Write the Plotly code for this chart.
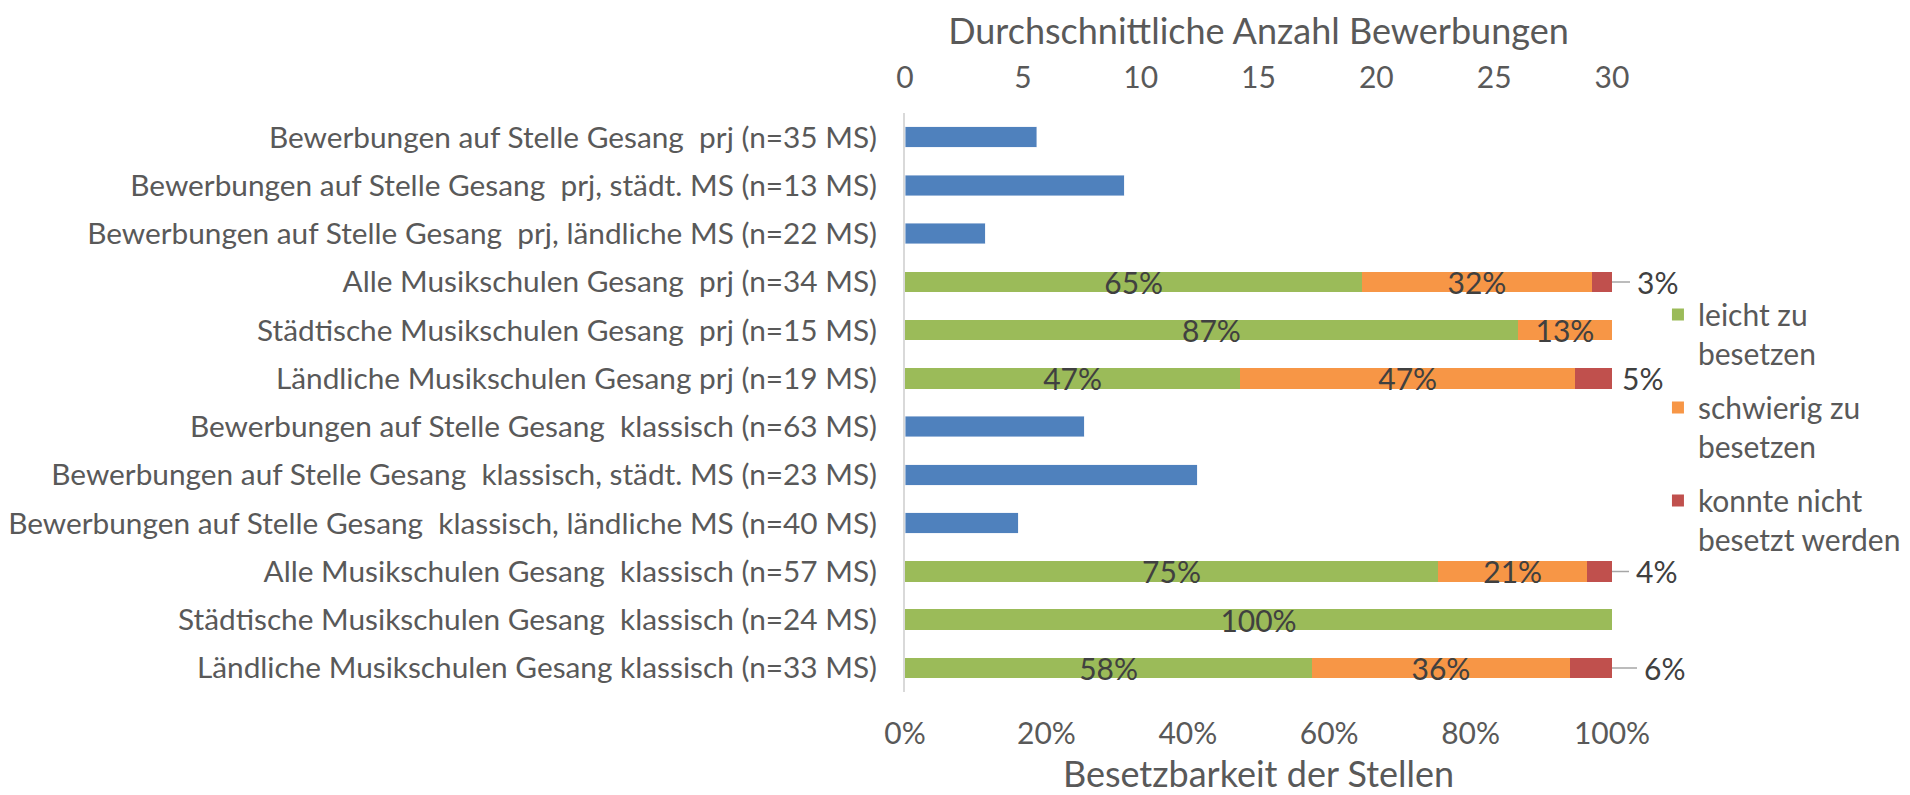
import plotly.graph_objects as go

categories = [
    "Bewerbungen auf Stelle Gesang  prj (n=35 MS)",
    "Bewerbungen auf Stelle Gesang  prj, städt. MS (n=13 MS)",
    "Bewerbungen auf Stelle Gesang  prj, ländliche MS (n=22 MS)",
    "Alle Musikschulen Gesang  prj (n=34 MS)",
    "Städtische Musikschulen Gesang  prj (n=15 MS)",
    "Ländliche Musikschulen Gesang prj (n=19 MS)",
    "Bewerbungen auf Stelle Gesang  klassisch (n=63 MS)",
    "Bewerbungen auf Stelle Gesang  klassisch, städt. MS (n=23 MS)",
    "Bewerbungen auf Stelle Gesang  klassisch, ländliche MS (n=40 MS)",
    "Alle Musikschulen Gesang  klassisch (n=57 MS)",
    "Städtische Musikschulen Gesang  klassisch (n=24 MS)",
    "Ländliche Musikschulen Gesang klassisch (n=33 MS)",
]

# average number of applications (top axis)
bewerbungen = [5.6, 9.3, 3.4, None, None, None, 7.6, 12.4, 4.8, None, None, None]

# share of positions (bottom axis)
leicht = [None, None, None, 0.647, 0.867, 0.474, None, None, None, 0.754, 1.0, 0.576]
schwierig = [None, None, None, 0.324, 0.133, 0.474, None, None, None, 0.211, 0.0, 0.364]
nicht = [None, None, None, 0.029, 0.0, 0.052, None, None, None, 0.035, 0.0, 0.060]

series_names = ["leicht zu<br>besetzen", "schwierig zu<br>besetzen", "konnte nicht<br>besetzt werden"]
top_ticks = [0, 5, 10, 15, 20, 25, 30]
bottom_ticks = [0, 0.2, 0.4, 0.6, 0.8, 1.0]
bottom_ticklabels = ["0%", "20%", "40%", "60%", "80%", "100%"]

FONT = "Lato"
FS = 30
TXT = "#595959"
LBL = "#404040"
colors = {"blue": "#4F81BD", "green": "#9BBB59", "orange": "#F79646", "red": "#C0504D"}


def pct_text(vals):
    return ["" if (v is None or v == 0) else f"{round(v * 100):d}%" for v in vals]


fig = go.Figure()
fig.add_trace(go.Bar(
    y=categories, x=bewerbungen, orientation="h", xaxis="x2", yaxis="y",
    marker=dict(color=colors["blue"]), width=0.42, showlegend=False,
    name="Durchschnittliche Anzahl Bewerbungen", hoverinfo="x+y",
))
for vals, name, col, show_text in [
    (leicht, series_names[0], colors["green"], True),
    (schwierig, series_names[1], colors["orange"], True),
    (nicht, series_names[2], colors["red"], False),
]:
    fig.add_trace(go.Bar(
        y=categories, x=vals, orientation="h", xaxis="x", yaxis="y",
        marker=dict(color=col, line=dict(width=0)), width=0.42, name=name,
        legendgroup=name,
        text=pct_text(vals) if show_text else None,
        textposition="inside" if show_text else "none",
        insidetextanchor="middle", textangle=0, constraintext="none",
        textfont=dict(family=FONT, size=FS, color=LBL),
        cliponaxis=False,
    ))

# labels for the "konnte nicht besetzt werden" segments, right of the bars
offsets = {3: 45, 5: 30, 9: 44, 11: 52}
for i, v in enumerate(nicht):
    if v is None or v == 0:
        continue
    total = min(leicht[i] + schwierig[i] + nicht[i], 1.0)
    ax = offsets.get(i, 40)
    arrow = i != 5
    fig.add_annotation(
        x=total, y=categories[i], xref="x", yref="y",
        text=f"{round(v * 100):d}%", showarrow=True, ax=ax, ay=0,
        arrowhead=0, arrowwidth=1.5, arrowcolor="#A6A6A6" if arrow else "rgba(0,0,0,0)",
        startstandoff=5, standoff=0,
        font=dict(family=FONT, size=FS, color=LBL),
    )

fig.update_layout(
    width=1902, height=787,
    paper_bgcolor="white", plot_bgcolor="white",
    barmode="stack", bargap=0.58,
    margin=dict(l=897, r=298, t=105, b=103, autoexpand=False),
    font=dict(family=FONT, size=FS, color=TXT),
    xaxis=dict(
        range=[0, 1], tickvals=bottom_ticks, ticktext=bottom_ticklabels,
        showgrid=False, zeroline=False, showline=False,
        ticks="outside", ticklen=15, tickcolor="rgba(0,0,0,0)",
        title=dict(text="Besetzbarkeit der Stellen", standoff=12),
        automargin=False, fixedrange=True,
    ),
    xaxis2=dict(
        range=[0, 30], tickvals=top_ticks, overlaying="x", side="top",
        showgrid=False, zeroline=False, showline=False,
        ticks="outside", ticklen=12, tickcolor="rgba(0,0,0,0)",
        title=dict(text="Durchschnittliche Anzahl Bewerbungen", standoff=30),
        automargin=False, fixedrange=True,
    ),
    yaxis=dict(
        categoryorder="array", categoryarray=categories, autorange="reversed",
        showgrid=False, zeroline=False, showline=True, linecolor="#D9D9D9", linewidth=2,
        ticks="outside", ticklen=20, tickcolor="rgba(0,0,0,0)",
        tickfont=dict(family=FONT, size=29.8, color=TXT),
        automargin=False, fixedrange=True,
    ),
    legend=dict(
        x=1.065, xanchor="left", y=0.697, yanchor="top",
        font=dict(family=FONT, size=FS, color=TXT),
        valign="top", tracegroupgap=12, itemwidth=30,
        traceorder="grouped", bgcolor="rgba(0,0,0,0)",
    ),
    showlegend=True,
)

fig.write_html("out.html")
